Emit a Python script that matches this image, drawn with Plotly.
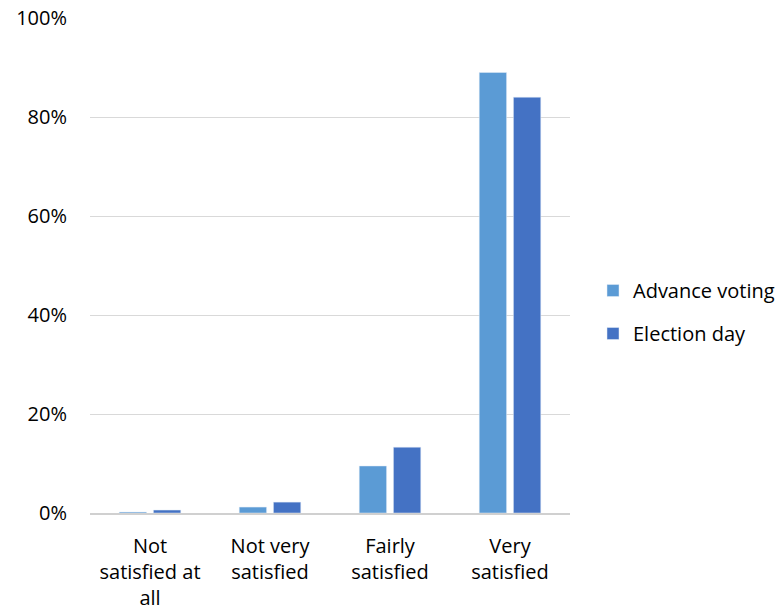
import plotly.graph_objects as go

categories = ["Not<br>satisfied at<br>all", "Not very<br>satisfied", "Fairly<br>satisfied", "Very<br>satisfied"]
advance_voting = [0.2, 1.2, 9.5, 89.0]
election_day = [0.6, 2.2, 13.3, 84.0]
tick_vals = [0, 20, 40, 60, 80, 100]
tick_text = ["0%", "20%", "40%", "60%", "80%", "100%"]

font_family = "Open Sans, Liberation Sans, Arial, sans-serif"
W, H = 782, 613

fig = go.Figure()
fig.add_trace(go.Bar(x=categories, y=advance_voting, name="Advance voting",
                     marker_color="#5B9BD5", legendgroup="a"))
fig.add_trace(go.Bar(x=categories, y=election_day, name="Election day",
                     marker_color="#4472C4", legendgroup="b"))

fig.update_layout(
    width=W, height=H,
    margin=dict(l=90, r=212, t=18, b=100),
    paper_bgcolor="white", plot_bgcolor="white",
    barmode="group", bargap=0.43, bargroupgap=0.2,
    font=dict(family=font_family, size=20, color="#000000"),
    legend=dict(xref="container", yref="container", x=593 / W, xanchor="left",
                y=(H - 312) / H, yanchor="middle",
                font=dict(size=20), tracegroupgap=14, itemwidth=30),
    showlegend=True,
)
fig.update_xaxes(showline=True, linecolor="#d0d0d0", linewidth=1.5,
                 ticks="", tickfont=dict(size=20), automargin=False,
                 ticklabelstandoff=14)
fig.update_yaxes(range=[0, 100], tickvals=tick_vals, ticktext=tick_text,
                 showgrid=True, gridcolor="#d9d9d9", gridwidth=1,
                 zeroline=False, showline=False, ticks="",
                 ticklabeloverflow="allow",
                 ticklabelstandoff=22, tickfont=dict(size=20), automargin=False)

fig.write_html("out.html",
               config={"displayModeBar": False},
               post_script="document.body.style.margin='0';document.body.style.overflow='hidden';")
